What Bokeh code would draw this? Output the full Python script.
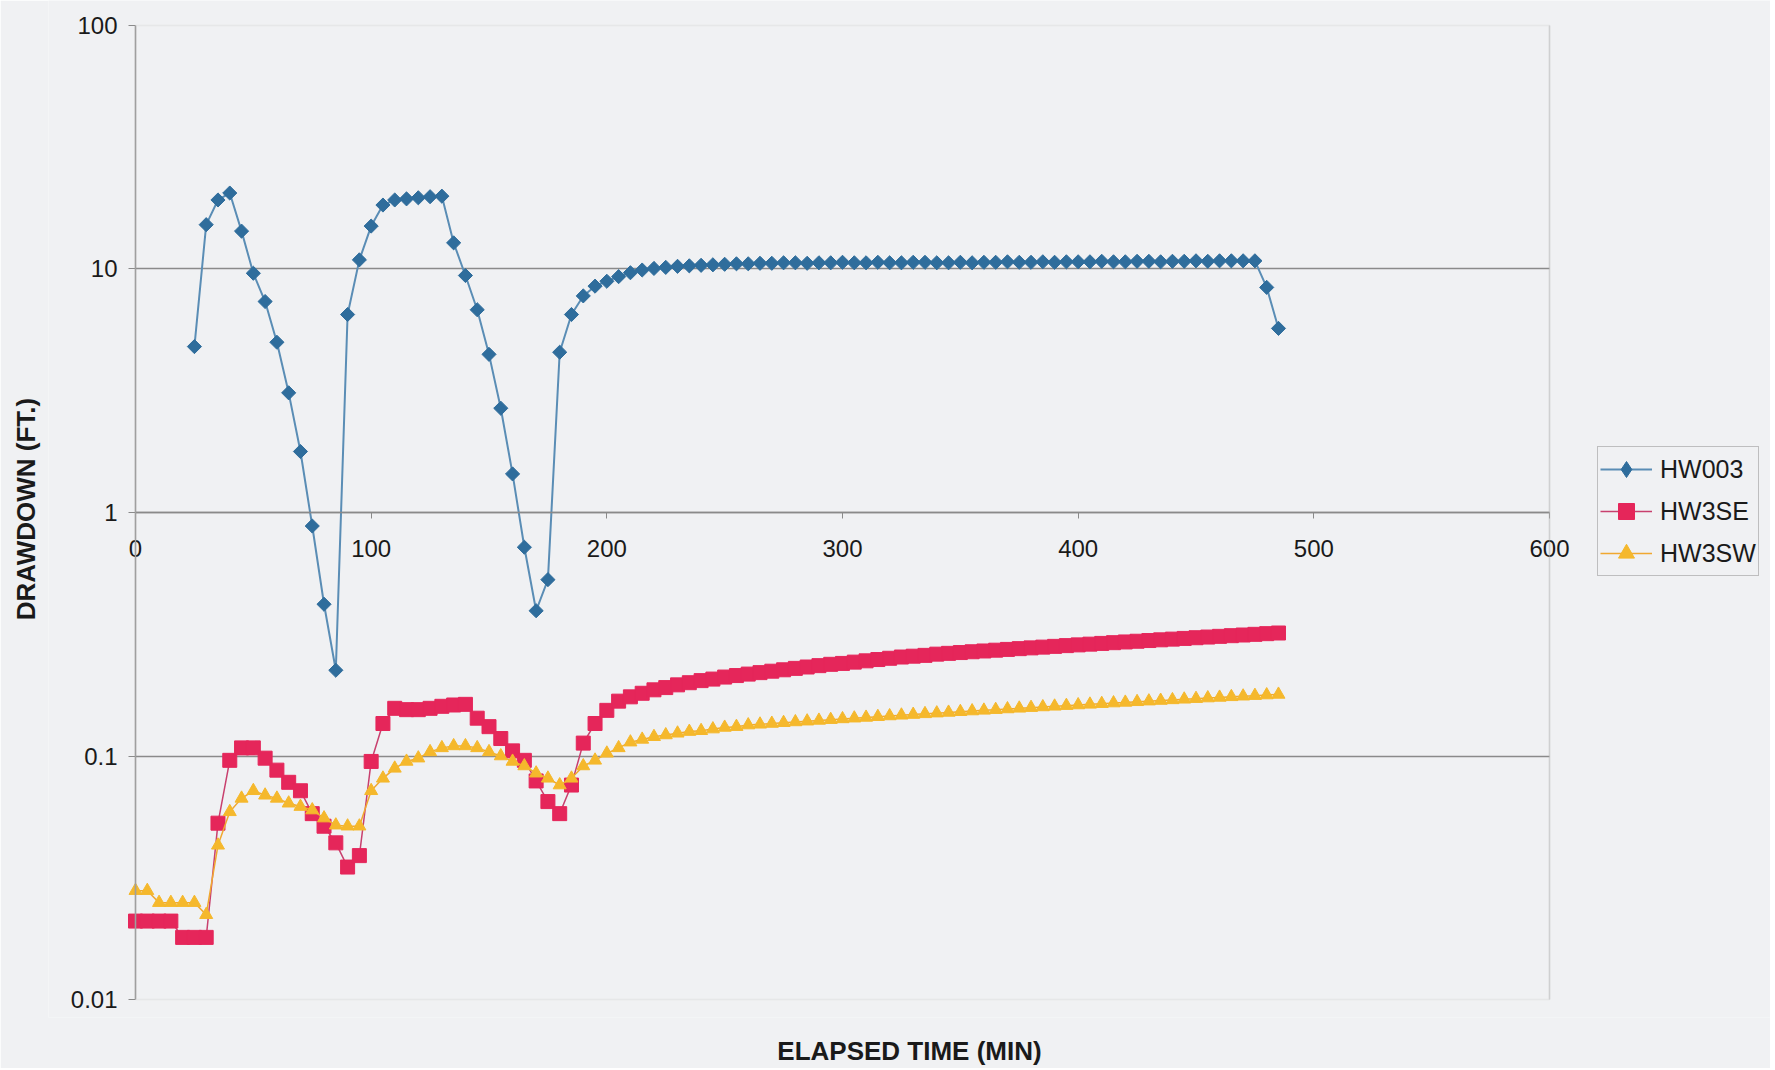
import numpy as np
from bokeh.plotting import figure
from bokeh.models import (LinearAxis, LogAxis, FixedTicker, Legend, LegendItem,
                          Range1d, BoxAnnotation)
from bokeh.embed import file_html
from bokeh.resources import INLINE

# ---------------- data ----------------
x_ticks = [0, 100, 200, 300, 400, 500, 600]
y_ticks = [0.01, 0.1, 1, 10, 100]
y_tick_labels = {0.01: "0.01", 0.1: "0.1", 1: "1", 10: "10", 100: "100"}

hw003_time = list(range(25, 490, 5))
hw003 = [4.8, 15.2, 19.2, 20.5, 14.3, 9.6, 7.35, 5.0, 3.1, 1.78,
         0.88, 0.42, 0.225, 6.5, 10.9, 15.0, 18.3, 19.2, 19.4, 19.6,
         19.8, 19.9, 12.8, 9.4, 6.8, 4.46, 2.68, 1.44, 0.72, 0.395,
         0.53, 4.55, 6.5, 7.75, 8.5, 8.9, 9.3, 9.65, 9.9, 10.05,
         10.15, 10.25, 10.3, 10.35, 10.4, 10.45, 10.5, 10.5, 10.55,
         10.55, 10.6, 10.6, 10.55, 10.6, 10.6, 10.65,
         10.6, 10.6, 10.65, 10.6, 10.6, 10.65, 10.65,
         10.6, 10.6, 10.65, 10.6, 10.65, 10.65, 10.7,
         10.65, 10.65, 10.7, 10.65, 10.7, 10.7, 10.7,
         10.75, 10.7, 10.7, 10.75, 10.75, 10.7, 10.75,
         10.75, 10.8, 10.75, 10.8, 10.8, 10.8, 10.8,
         8.4, 5.7]

sw_time = list(range(0, 490, 5))
hw3se = [0.021, 0.021, 0.021, 0.021, 0.018, 0.018, 0.018,
         0.053, 0.096, 0.108, 0.108, 0.098, 0.0875, 0.078, 0.072, 0.058,
         0.0515, 0.044, 0.035, 0.039,
         0.095, 0.136, 0.157, 0.155, 0.155, 0.157, 0.160, 0.162, 0.163,
         0.143, 0.132, 0.118, 0.105, 0.096, 0.079, 0.065, 0.058, 0.076,
         0.113, 0.136, 0.154, 0.168,
         0.175, 0.181, 0.187, 0.191, 0.196, 0.200, 0.204, 0.207, 0.211,
         0.214, 0.217, 0.220, 0.223, 0.226, 0.229, 0.232, 0.235, 0.238,
         0.240, 0.243, 0.246, 0.249, 0.252, 0.255, 0.257, 0.259, 0.262,
         0.264, 0.266, 0.268, 0.270, 0.272, 0.274, 0.276, 0.278, 0.280,
         0.282, 0.284, 0.286, 0.288, 0.290, 0.292, 0.294, 0.296, 0.298,
         0.300, 0.302, 0.304, 0.306, 0.308, 0.310, 0.312, 0.314, 0.316,
         0.318, 0.320]
hw3sw = [0.028, 0.028, 0.025, 0.025, 0.025, 0.025, 0.0223,
         0.043, 0.059, 0.067, 0.072, 0.069, 0.067, 0.064, 0.062, 0.060,
         0.0556, 0.052, 0.0515, 0.0515,
         0.072, 0.081, 0.089, 0.095, 0.098, 0.104, 0.108, 0.110, 0.110,
         0.108, 0.104, 0.100, 0.095, 0.091, 0.085, 0.081, 0.076, 0.081,
         0.091, 0.096, 0.1026, 0.108,
         0.114, 0.117, 0.120, 0.122, 0.124, 0.126, 0.127, 0.129, 0.131,
         0.132, 0.134, 0.135, 0.136, 0.137, 0.138, 0.139, 0.140, 0.141,
         0.142, 0.143, 0.144, 0.145, 0.146, 0.147, 0.148, 0.149, 0.150,
         0.151, 0.152, 0.153, 0.154, 0.155, 0.156, 0.157, 0.158, 0.159,
         0.160, 0.161, 0.162, 0.163, 0.164, 0.165, 0.166, 0.167, 0.168,
         0.169, 0.170, 0.171, 0.172, 0.173, 0.174, 0.175, 0.176, 0.177,
         0.178, 0.179]

FONT = "Liberation Sans"
BG = "#f0f1f3"
TXT = "#1a1a1a"
AXC = "#8a8a8a"

# layout: plot area (0..600 min, 0.01..100 ft) spans screen x 135..1549, y 25..1002;
# the frame is larger so tick labels at the ends and the legend are not clipped.
W, H = 1770, 1068
LEFT = 48
FRAME_BOTTOM = 1020
PX_PER_MIN = (1549 - 135) / 600.0
PX_PER_DEC = (1002 - 25) / 4.0
x_start = -(135 - LEFT) / PX_PER_MIN
x_end = (W - 135) / PX_PER_MIN
y_end = 10 ** (2 + 25 / PX_PER_DEC)
y_start = 10 ** (-2 - (FRAME_BOTTOM - 1002) / PX_PER_DEC)

p = figure(width=W, height=H, y_axis_type="log",
           x_range=Range1d(x_start, x_end), y_range=Range1d(y_start, y_end),
           output_backend="svg", toolbar_location=None,
           min_border_left=LEFT, min_border_right=0,
           min_border_top=0, min_border_bottom=H - FRAME_BOTTOM,
           background_fill_color=BG, border_fill_color=BG)

p.outline_line_color = None
p.xgrid.visible = False
p.ygrid.ticker = FixedTicker(ticks=[0.1, 1, 10])
p.ygrid.grid_line_color = AXC
p.ygrid.grid_line_width = 1.5
if "cross_bounds" in p.ygrid.properties():
    p.ygrid.cross_bounds = (0, 600)

# plot-area border (light), right edge darker
p.add_layout(BoxAnnotation(left=0, right=600, bottom=0.01, top=100,
                           fill_alpha=0, line_color="#d2d2d2", line_width=1.5))
p.add_layout(BoxAnnotation(left=600, right=600, bottom=0.01, top=100,
                           fill_alpha=0, line_color="#9a9a9a", line_width=1.5))

# bottom axis carries only the title
bx = p.xaxis[0]
bx.ticker = FixedTicker(ticks=[])
bx.axis_line_color = None
bx.major_tick_line_color = None
bx.minor_tick_line_color = None
bx.axis_label = "ELAPSED TIME (MIN)"
bx.axis_label_text_font = FONT
bx.axis_label_text_font_size = "26px"
bx.axis_label_text_font_style = "bold"
bx.axis_label_text_color = TXT
bx.axis_label_standoff = 18

# left axis carries only the title
ly = p.yaxis[0]
ly.ticker = FixedTicker(ticks=[])
ly.axis_line_color = None
ly.major_tick_line_color = None
ly.minor_tick_line_color = None
ly.axis_label = "DRAWDOWN (FT.)"
ly.axis_label_text_font = FONT
ly.axis_label_text_font_size = "26px"
ly.axis_label_text_font_style = "bold"
ly.axis_label_text_color = TXT
ly.axis_label_standoff = 8

# x axis crossing at y = 1
xa = LinearAxis(fixed_location=1, ticker=FixedTicker(ticks=x_ticks), bounds=(0, 600))
xa.axis_line_color = AXC
xa.axis_line_width = 1.5
xa.major_tick_line_color = AXC
xa.major_tick_out = 6
xa.major_tick_in = 0
xa.minor_tick_line_color = None
xa.major_label_text_font = FONT
xa.major_label_text_font_size = "24px"
xa.major_label_text_color = TXT
xa.major_label_standoff = 22
p.add_layout(xa, "below")

# y axis at x = 0
ya = LogAxis(fixed_location=0, ticker=FixedTicker(ticks=y_ticks), bounds=(0.01, 100))
ya.major_label_overrides = y_tick_labels
ya.axis_line_color = AXC
ya.axis_line_width = 1.5
ya.major_tick_line_color = AXC
ya.major_tick_out = 7
ya.major_tick_in = 0
ya.minor_tick_line_color = None
ya.major_label_text_font = FONT
ya.major_label_text_font_size = "24px"
ya.major_label_text_color = TXT
ya.major_label_standoff = 11
p.add_layout(ya, "left")

bl = p.line(hw003_time, hw003, line_color="#5a8db5", line_width=2)
bs = p.scatter(hw003_time, hw003, marker="square", angle=np.pi / 4, size=10,
               fill_color="#2f6d9c", line_color="#2f6d9c")
rl = p.line(sw_time, hw3se, line_color="#c8406e", line_width=1.5)
rs = p.scatter(sw_time, hw3se, marker="square", size=14,
               fill_color="#e5265a", line_color="#e5265a")
yl = p.line(sw_time, hw3sw, line_color="#f0a830", line_width=1.5)
ys = p.scatter(sw_time, hw3sw, marker="triangle", size=13,
               fill_color="#f5b82c", line_color="#f5b82c")

# legend-only diamond marker for HW003 (a single non-drawn point)
bdia = p.scatter(x=np.array([np.nan]), y=np.array([np.nan]), marker="diamond", size=16,
                 fill_color="#2f6d9c", line_color="#2f6d9c")

legend = Legend(items=[LegendItem(label="HW003", renderers=[bl, bdia]),
                       LegendItem(label="HW3SE", renderers=[rl, rs]),
                       LegendItem(label="HW3SW", renderers=[yl, ys])],
                location=(1597 - LEFT, FRAME_BOTTOM - 579), orientation="vertical",
                glyph_width=52, glyph_height=40, label_height=40,
                label_text_font=FONT, label_text_font_size="25px",
                label_text_color=TXT, label_standoff=8,
                spacing=2, padding=2, margin=0,
                border_line_color="#8c8c8c", border_line_width=1.5,
                background_fill_color=BG, background_fill_alpha=1.0)
p.add_layout(legend)

open("out.html", "w").write(file_html(p, INLINE))
